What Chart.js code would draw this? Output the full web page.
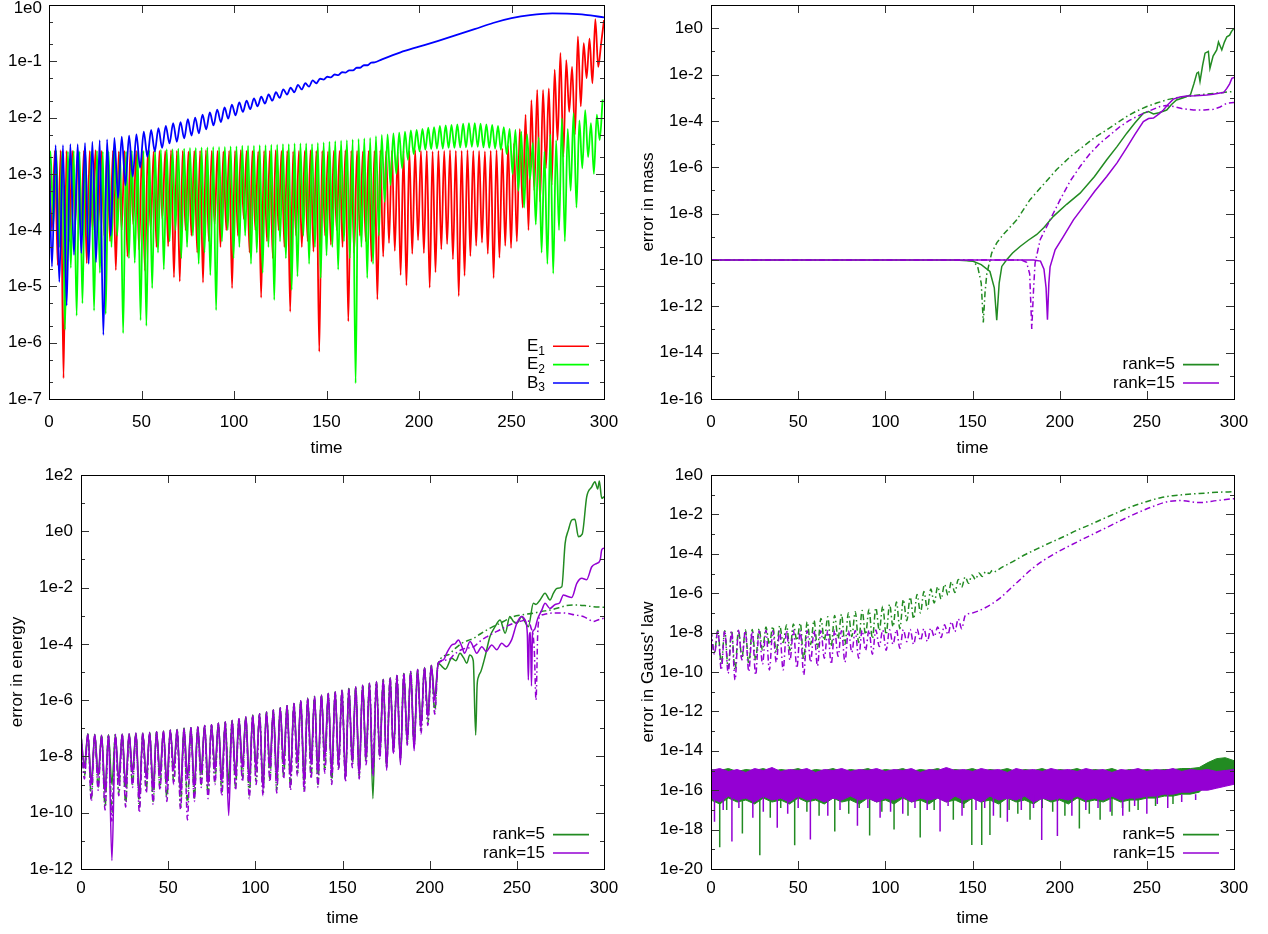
<!DOCTYPE html>
<html>
<head>
<meta charset="utf-8">
<script src="https://cdn.jsdelivr.net/npm/chart.js@4.4.1/dist/chart.umd.min.js"></script>
<style>
  html, body { margin: 0; padding: 0; background: #fff; overflow: hidden; }
  body { width: 1268px; height: 934px; position: relative; }
  canvas { position: absolute; }
</style>
</head>
<body>
<canvas id="fields" width="634" height="477" style="left:0;top:-10px"></canvas>
<canvas id="mass" width="634" height="477" style="left:634px;top:-10px"></canvas>
<canvas id="energy" width="634" height="467" style="left:0;top:467px"></canvas>
<canvas id="gauss" width="634" height="467" style="left:634px;top:467px"></canvas>
<script>
// All series values are log10 of the plotted quantity.

const timeTicks = [0, 50, 100, 150, 200, 250, 300];
const fieldTicks = [1e-7, 1e-6, 1e-5, 1e-4, 1e-3, 1e-2, 1e-1, 1e0];
const massTicks = [1e-16, 1e-14, 1e-12, 1e-10, 1e-8, 1e-6, 1e-4, 1e-2, 1e0];
const energyTicks = [1e-12, 1e-10, 1e-8, 1e-6, 1e-4, 1e-2, 1e0, 1e2];
const gaussTicks = [1e-20, 1e-18, 1e-16, 1e-14, 1e-12, 1e-10, 1e-8, 1e-6, 1e-4, 1e-2, 1e0];

// ---- top left: |E1|, |E2|, |B3| (samples every half oscillation) ----
const e1Start = 0, e1Step = 1.5708;
const e1Peaks = [
  -2.59,-2.59,-2.58,-2.59,-2.59,-2.6,-2.59,-2.59,-2.58,-2.59,
  -2.59,-2.59,-2.6,-2.59,-2.58,-2.59,-2.59,-2.59,-2.6,-2.59,
  -2.59,-2.58,-2.59,-2.59,-2.6,-2.59,-2.59,-2.58,-2.59,-2.59,
  -2.6,-2.59,-2.59,-2.58,-2.59,-2.59,-2.6,-2.59,-2.59,-2.58,
  -2.59,-2.59,-2.6,-2.59,-2.59,-2.58,-2.59,-2.59,-2.6,-2.59,
  -2.59,-2.58,-2.59,-2.59,-2.6,-2.59,-2.59,-2.58,-2.59,-2.59,
  -2.6,-2.59,-2.59,-2.58,-2.59,-2.59,-2.6,-2.59,-2.59,-2.58,
  -2.59,-2.59,-2.58,-2.59,-2.59,-2.6,-2.59,
  -2.58,-2.55,-2.5,-2.46,-2.2,-1.95,-1.69,-1.51,-1.51,-1.48,
  -1.15,-0.85,-0.98,-1.1,-0.56,-0.68,-0.6,-0.25,-0.68
];
const e1Dips = [
  -4.0,-4.62,-6.63,-4.2,-3.9,-4.1,-4.59,-4.0,-3.9,-4.1,
  -4.2,-4.71,-4.0,-4.47,-3.9,-4.35,-4.72,-4.0,-4.3,-3.8,
  -4.29,-4.84,-4.91,-4.0,-4.1,-4.4,-4.93,-4.2,-3.9,-4.3,
  -4.0,-5.03,-4.1,-3.8,-4.4,-4.0,-5.2,-4.2,-4.5,-4.0,
  -4.3,-5.45,-4.1,-4.3,-4.2,-4.38,-6.16,-4.1,-4.26,-4.0,
  -4.3,-5.62,-4.41,-4.1,-4.2,-4.56,-5.23,-4.47,-4.23,-4.37,
  -4.8,-4.98,-4.42,-4.18,-4.41,-5.02,-4.75,-4.34,-4.25,-4.52,
  -5.17,-4.81,-4.46,-4.28,-4.22,-4.42,-4.85,-4.49,-4.28,-4.32,
  -4.2,-3.6,-4.0,-3.3,-3.5,-2.9,-3.2,-2.4,-2.7,-1.9,
  -2.3,-1.8,-1.3,-1.39,-1.1
];
const e1Tail = [[300, -0.27]];

const e2Start = 0.8, e2Step = 1.5708;
const e2Head = [[0, -2.9]];
const e2Peaks = [
  -2.6,-2.59,-2.6,-2.6,-2.59,-2.6,-2.6,-2.6,-2.59,-2.6,
  -2.6,-2.59,-2.6,-2.6,-2.59,-2.6,-2.59,
  -2.58,-2.58,-2.57,-2.56,-2.56,-2.55,-2.55,-2.54,-2.54,-2.53,
  -2.53,-2.52,-2.52,-2.52,-2.51,-2.51,-2.5,-2.5,-2.5,-2.49,
  -2.49,-2.48,-2.48,-2.47,-2.47,-2.46,-2.46,-2.46,-2.47,-2.45,
  -2.44,-2.43,-2.42,-2.41,-2.4,-2.39,-2.38,-2.37,-2.36,-2.33,
  -2.31,-2.3,-2.28,-2.27,-2.25,-2.23,-2.22,-2.2,-2.18,-2.17,
  -2.15,-2.14,-2.13,-2.12,-2.11,-2.1,-2.1,-2.11,-2.12,-2.13,
  -2.15,-2.17,-2.2,-2.22,-2.25,-2.3,-2.45,-2.35,-2.6,-2.3,
  -2.4,-2.01,-2.2,-1.92,-2.05,-1.87,-2.1,-1.95,-1.68
];
const e2Dips = [
  -3.9,-4.3,-5.77,-4.67,-5.52,-5.3,-4.4,-5.43,-4.76,-5.49,
  -4.3,-4.1,-5.83,-4.5,-4.58,-5.6,-5.7,-5.03,-4.4,-4.7,
  -4.2,-4.0,-4.5,-4.3,-4.1,-4.6,-4.4,-4.8,-5.42,-4.2,
  -4.0,-4.5,-4.3,-4.1,-4.6,-4.4,-4.76,-4.3,-5.24,-4.2,
  -4.5,-5.06,-4.82,-4.1,-4.6,-4.3,-4.85,-4.45,-4.3,-4.7,
  -4.2,-4.5,-6.72,-4.3,-4.85,-4.6,-4.1,-3.5,-3.2,-3.0,
  -2.9,-2.75,-2.65,-2.6,-2.57,-2.56,-2.55,-2.55,-2.54,-2.54,
  -2.53,-2.53,-2.52,-2.52,-2.53,-2.54,-2.55,-2.57,-2.65,-3.0,
  -3.3,-3.6,-3.1,-3.9,-4.4,-4.6,-4.77,-4.0,-4.2,-3.3,
  -3.6,-2.9,-2.7,-3.0,-2.4
];

const b3Start = 1.6, b3Step = 1.985;
const b3Head = [[0, -2.55]];
const b3Dips = [
  -4.65,-4.92,-5.34,-4.44,-4.41,-4.6,-4.57,-5.86,-4.1,-3.43,
  -3.2,-3.05,-2.89,-2.7,-2.6,-2.54,-2.46,-2.43,-2.37,-2.32,
  -2.28,-2.21,-2.14,-2.08,-2.02,-1.96,-1.9,-1.85,-1.8,-1.75,
  -1.7,-1.65,-1.59,-1.55,-1.5,-1.45,-1.39
];
const b3Peaks = [
  -2.49,-2.49,-2.47,-2.47,-2.45,-2.43,-2.4,-2.39,-2.36,-2.34,
  -2.32,-2.3,-2.25,-2.22,-2.19,-2.15,-2.1,-2.08,-2.03,-2.0,
  -1.95,-1.91,-1.86,-1.82,-1.77,-1.73,-1.7,-1.66,-1.63,-1.59,
  -1.55,-1.5,-1.47,-1.42,-1.39,-1.34
];
const b3Tail = [
  [146.5,-1.31],[148.5,-1.325],[150.4,-1.275],[152.4,-1.285],[154.4,-1.235],[156.4,-1.245],
  [158.4,-1.195],[160.3,-1.2],[162.3,-1.16],[164.3,-1.16],[166.3,-1.115],[168.2,-1.115],
  [170.2,-1.07],[172.2,-1.07],[174.2,-1.025],[176,-1.02],[180,-0.965],[190,-0.84],
  [200,-0.74],[210,-0.64],[220,-0.535],[230,-0.43],[240,-0.32],[250,-0.235],[260,-0.18],
  [272,-0.15],[280,-0.155],[290,-0.175],[300,-0.22]
];

// ---- top right: error in mass ----
const massR5 = [
  [0,-10],[140,-10],[150,-10.05],[155,-10.2],[160,-10.5],[162.5,-11.2],[163.9,-12.6],[165.3,-11.0],
  [166.8,-10.28],[169.6,-9.99],[173,-9.7],[177.3,-9.42],[182,-9.15],[186.9,-8.9],[191,-8.6],
  [196.4,-8.12],[204,-7.6],[211.7,-7.12],[220,-6.4],[227,-5.68],[233,-5.1],[238.5,-4.53],
  [243,-4.1],[248,-3.67],[251,-3.6],[253.8,-3.7],[257,-3.65],[261.4,-3.53],[264,-3.3],
  [267,-3.1],[271,-3.0],[275,-2.88],[277,-2.4],[278.7,-1.94],[279.6,-1.9],[280.5,-2.3],
  [282,-1.6],[283.4,-1.08],[285.3,-1.0],[286.2,-1.73],[288,-1.2],[290.1,-0.94],[291.1,-0.6],
  [293,-0.94],[294.5,-0.6],[295.9,-0.37],[297.5,-0.3],[298.5,-0.15],[300,0.0]
];
const massR5Dash = [
  [0,-10],[145,-10],[150.5,-10.05],[153,-10.3],[155,-11.0],[156.2,-12.7],[157.2,-11.4],
  [158.2,-10.6],[161,-9.7],[164,-9.25],[167.7,-8.9],[175.4,-8.27],[183,-7.4],[190,-6.8],
  [198.3,-6.1],[206,-5.55],[213.6,-5.1],[220,-4.72],[227,-4.39],[233,-4.08],[238.5,-3.81],
  [244,-3.58],[250,-3.38],[256,-3.22],[261.4,-3.09],[267,-3.0],[272.9,-2.95],[280,-2.88],
  [290,-2.8],[300,-2.73]
];
const massR15 = [
  [0,-10],[185,-10],[189,-10.05],[191,-10.4],[192.2,-11.2],[193,-12.58],[193.8,-11.0],
  [194.5,-10.3],[197.4,-9.56],[202.1,-8.99],[207.9,-8.27],[213.6,-7.7],[220,-7.05],
  [227,-6.4],[233,-5.8],[238.5,-5.15],[243,-4.6],[248,-4.03],[251,-3.9],[253.8,-3.88],
  [257,-3.7],[259.5,-3.53],[262,-3.3],[265.2,-3.06],[269,-2.97],[272.9,-2.93],[278,-2.92],
  [284.4,-2.88],[288,-2.85],[292,-2.8],[294,-2.78],[295.9,-2.6],[297.5,-2.4],[298.8,-2.16],
  [300,-2.13]
];
const massR15Dash = [
  [0,-10],[178,-10],[181,-10.1],[182.8,-10.6],[184,-12.98],[185,-11.3],[185.9,-10.13],
  [188.8,-9.13],[194.5,-8.27],[200.2,-7.41],[206,-6.6],[211.7,-5.97],[217,-5.45],
  [223.2,-4.96],[229,-4.6],[234.7,-4.24],[240,-3.98],[246.1,-3.74],[252,-3.55],
  [257.6,-3.38],[261,-3.34],[265.2,-3.38],[270,-3.47],[276.7,-3.53],[283,-3.53],
  [288.2,-3.5],[292,-3.4],[295.9,-3.24],[300,-3.21]
];

// ---- bottom left: error in energy ----
const energyStart = 0, energyStep = 1.97;
const energyPeaks = [
  -7.25,-7.2,-7.22,-7.25,-7.24,-7.22,-7.2,-7.2,-7.18,-7.17,
  -7.15,-7.12,-7.1,-7.07,-7.04,-7.0,-6.98,-6.95,-6.9,-6.87,
  -6.82,-6.78,-6.72,-6.66,-6.6,-6.54,-6.48,-6.42,-6.35,-6.27,
  -6.2,-6.12,-6.02,-5.93,-5.87,-5.82,-5.76,-5.7,-5.64,-5.59,
  -5.53,-5.47,-5.4,-5.34,-5.27,-5.2,-5.12,-5.05,-4.98,-4.91,
  -4.84,-4.77,-4.69
];
const energyDipsR15 = [
  -8.4,-9.0,-8.7,-9.3,-11.7,-8.9,-9.1,-8.6,-9.5,-8.8,
  -9.2,-8.7,-9.0,-8.5,-9.3,-8.8,-9.1,-8.6,-9.0,-8.5,
  -8.9,-10.1,-8.7,-8.4,-8.9,-8.5,-9.2,-8.4,-8.8,-8.3,
  -8.7,-8.2,-9.0,-8.3,-8.6,-8.1,-8.6,-8.3,-8.8,-8.2,
  -8.7,-8.1,-8.6,-8.0,-8.5,-7.9,-8.3,-7.5,-7.8,-7.0,
  -6.6,-6.0
];
const energyDipsR15Dash = [
  -8.8,-9.6,-9.2,-9.9,-10.3,-9.4,-9.8,-9.1,-10.0,-9.3,
  -9.7,-9.2,-9.6,-9.0,-9.9,-10.26,-9.6,-9.1,-9.5,-9.0,
  -9.4,-9.3,-9.2,-8.9,-9.5,-9.0,-9.4,-8.9,-9.3,-8.8,
  -9.2,-8.7,-9.3,-8.8,-9.1,-8.6,-9.0,-8.5,-8.9,-8.4,
  -8.8,-8.3,-8.7,-8.1,-8.4,-7.9,-8.1,-7.6,-7.7,-7.2,
  -6.9,-6.5
];
const energyDipsR5 = [
  -8.3,-8.9,-8.6,-9.2,-9.0,-8.8,-9.0,-8.5,-9.3,-8.7,
  -9.1,-8.6,-8.9,-8.4,-9.2,-8.7,-9.0,-8.5,-8.9,-8.4,
  -8.8,-8.9,-8.6,-8.3,-8.8,-8.4,-9.0,-8.3,-8.7,-8.2,
  -8.6,-8.1,-8.8,-8.2,-8.5,-8.0,-8.5,-8.2,-8.7,-8.1,
  -8.6,-8.0,-9.5,-7.9,-8.4,-7.8,-8.2,-7.4,-7.6,-6.9,
  -6.5,-5.9
];
const energyDipsR5Dash = [
  -8.7,-9.5,-9.1,-9.8,-10.0,-9.3,-9.7,-9.0,-9.8,-9.2,
  -9.6,-9.1,-9.5,-8.9,-9.8,-9.7,-9.5,-9.0,-9.4,-8.9,
  -9.3,-9.2,-9.1,-8.8,-9.4,-8.9,-9.3,-8.8,-9.2,-8.7,
  -9.1,-8.6,-9.2,-8.7,-9.0,-8.5,-8.9,-8.4,-8.8,-8.3,
  -8.7,-8.2,-8.6,-8.0,-8.3,-7.8,-8.0,-7.5,-7.6,-7.1,
  -6.8,-6.4
];
const energyR5Tail = [
  [207,-4.8],[209,-4.9],[212.7,-4.51],[215,-4.6],[217.4,-4.33],[219.5,-4.5],[221.3,-4.69],
  [223,-4.4],[225,-4.6],[226.4,-7.24],[227.2,-5.5],[228,-5.17],[229.5,-4.96],[231.8,-4.45],
  [234.6,-3.74],[237.5,-3.39],[240.4,-3.15],[243.3,-3.62],[246,-3.03],[248,-3.2],[250,-3.27],
  [252.8,-3.03],[254.5,-3.2],[256.6,-3.39],[259.5,-2.56],[261,-2.6],[263.3,-2.44],[266.2,-2.2],
  [269,-2.44],[271,-2.2],[272.9,-2.03],[275.8,-1.97],[277.7,-0.43],[279.6,0.05],[281.5,0.4],
  [283.3,0.43],[285.3,-0.19],[287.5,-0.1],[290.1,1.23],[293,1.58],[294.8,1.76],[296.4,1.5],
  [297.3,1.79],[298.7,1.17],[300,1.23]
];
const energyR15Tail = [
  [207.9,-4.57],[210,-4.3],[212.7,-4.04],[214.5,-4.0],[216.5,-3.86],[218.5,-4.1],[220,-4.33],
  [223.2,-3.92],[225,-4.1],[227,-4.33],[229.9,-4.1],[232.5,-4.27],[235.6,-4.04],[238.5,-4.21],
  [241.3,-3.98],[244,-4.1],[247,-3.86],[250,-3.27],[252.8,-3.03],[254.7,-3.15],[256,-3.62],
  [256.6,-5.28],[257.2,-3.7],[257.8,-3.6],[258.4,-5.5],[259,-3.6],[260,-3.5],[262,-3.1],
  [264.3,-2.8],[266.2,-2.56],[269,-2.74],[272,-2.6],[274.5,-2.55],[276.7,-2.26],[278.5,-2.3],
  [281.5,-2.35],[284.4,-1.85],[287.3,-1.67],[290,-1.72],[293,-1.26],[295.9,-1.14],
  [297.8,-1.02],[298.7,-0.66],[300,-0.6]
];
const energyR5DashTail = [
  [210.7,-4.39],[214,-4.2],[218.4,-3.98],[222,-3.88],[225.3,-3.8],[229,-3.65],[233,-3.5],
  [236.5,-3.38],[240.4,-3.27],[244,-3.15],[248,-3.03],[253,-2.97],[259.5,-2.91],[264,-2.85],
  [269,-2.8],[274,-2.72],[278.5,-2.64],[284.4,-2.62],[289,-2.64],[293.9,-2.68],[300,-2.7]
];
const energyR15DashTail = [
  [210.7,-4.57],[214,-4.38],[218.4,-4.2],[222,-4.15],[225.3,-4.1],[229,-3.9],[233,-3.74],
  [236.5,-3.62],[240.4,-3.5],[244,-3.38],[248,-3.27],[252,-3.2],[255.7,-3.15],[258,-3.4],
  [260,-4.2],[261,-6.0],[262,-3.6],[263.3,-3.03],[266,-2.95],[269,-2.91],[274,-2.9],
  [278.5,-2.91],[283,-2.97],[288.1,-3.03],[291,-3.12],[293.9,-3.21],[296.5,-3.15],[300,-3.09]
];

// ---- bottom right: error in Gauss' law ----
const gaussStart = 0, gaussStep = 1.97;
const gaussPeaksR15Dash = [
  -7.9,-7.88,-7.9,-7.92,-7.88,-7.9,-7.93,-7.9,-7.88,-7.9,
  -7.92,-7.9,-7.88,-7.9,-7.91,-7.89,-7.9,-7.9,-7.88,-7.9,
  -7.9,-7.89,-7.88,-7.88,-7.87,-7.87,-7.86,-7.85,-7.85,-7.84,
  -7.82,-7.8,-7.77,-7.72,-7.6,-7.45,-7.3,-7.15
];
const gaussDipsR15Dash = [
  -9.1,-9.9,-10.07,-10.4,-9.39,-9.98,-10.15,-9.6,-9.9,-9.5,
  -9.9,-9.4,-9.8,-10.15,-9.5,-9.7,-9.3,-9.6,-9.2,-9.5,
  -9.0,-9.3,-8.9,-9.1,-8.71,-8.9,-8.6,-8.8,-8.46,-8.6,
  -8.4,-8.45,-8.2,-8.25,-8.1,-7.95,-7.8
];
const gaussR15DashTail = [
  [150,-7.0],[157,-6.75],[165,-6.3],[175,-5.5],[185,-4.7],[195,-4.1],[210,-3.4],[225,-2.75],
  [240,-2.1],[252,-1.65],[262,-1.35],[270,-1.3],[280,-1.4],[290,-1.3],[300,-1.2]
];
const gaussPeaksR5Dash = [
  -7.9,-7.88,-7.9,-7.9,-7.88,-7.86,-7.84,-7.8,-7.72,-7.68,
  -7.65,-7.62,-7.56,-7.52,-7.45,-7.38,-7.28,-7.2,-7.13,-7.07,
  -7.0,-6.94,-6.88,-6.82,-6.74,-6.66,-6.57,-6.45,-6.32,-6.2,
  -6.06,-5.92,-5.79,-5.67,-5.55,-5.42,-5.3,-5.17,-5.07,-4.98,
  -4.9,-4.83,-4.76
];
const gaussDipsR5Dash = [
  -9.0,-9.6,-9.8,-9.9,-9.3,-9.6,-9.4,-8.9,-8.6,-9.0,
  -8.5,-8.9,-8.4,-9.39,-8.6,-8.8,-8.4,-8.7,-8.3,-8.6,
  -8.2,-8.5,-8.1,-8.3,-7.9,-8.1,-7.7,-7.8,-7.4,-7.3,
  -7.0,-6.8,-6.5,-6.3,-6.1,-5.97,-5.7,-5.5,-5.3,-5.15,
  -5.0,-4.9
];
const gaussR5DashTail = [
  [172,-4.45],[180,-4.05],[187,-3.75],[195,-3.42],[203,-3.1],[210,-2.8],[218,-2.5],[225,-2.22],
  [232,-1.95],[240,-1.65],[247,-1.43],[252,-1.29],[258,-1.15],[265,-1.05],[272,-0.99],
  [280,-0.94],[290,-0.88],[300,-0.85]
];
// noise band of the solid curves, edges every 5 time units
const noiseStart = 0, noiseStep = 5;
const noiseR15High = [
  -15.0,-14.9,-15.05,-14.95,-15.1,-14.9,-15.0,-14.85,-15.05,-14.95,
  -15.0,-14.9,-15.1,-14.95,-15.0,-14.9,-15.05,-14.95,-15.0,-14.9,
  -15.05,-14.95,-15.0,-14.9,-15.1,-14.95,-15.0,-14.85,-15.0,-14.95,
  -15.05,-14.9,-15.0,-14.95,-15.1,-14.9,-15.0,-14.95,-15.05,-14.9,
  -15.0,-14.95,-15.05,-14.9,-15.0,-14.95,-15.1,-14.95,-15.0,-14.9,
  -15.05,-14.95,-15.0,-14.9,-15.05,-14.95,-15.0,-14.95,-15.05,-15.0,
  -14.95
];
const noiseR15Low = [
  -16.4,-16.6,-16.3,-16.5,-16.4,-16.6,-16.3,-16.5,-16.4,-16.6,
  -16.3,-16.5,-16.4,-16.6,-16.4,-16.5,-16.3,-16.5,-16.4,-16.6,
  -16.4,-16.5,-16.3,-16.6,-16.4,-16.5,-16.4,-16.6,-16.3,-16.5,
  -16.4,-16.6,-16.3,-16.5,-16.4,-16.5,-16.3,-16.6,-16.4,-16.5,
  -16.4,-16.5,-16.3,-16.5,-16.4,-16.5,-16.3,-16.5,-16.4,-16.4,
  -16.3,-16.3,-16.2,-16.2,-16.1,-16.1,-16.0,-16.0,-15.9,-15.8,
  -15.7
];
const noiseR5High = [
  -14.95,-15.0,-14.9,-15.05,-14.95,-15.0,-14.9,-15.05,-14.95,-15.0,
  -14.9,-15.05,-14.95,-15.0,-14.9,-15.05,-14.95,-15.0,-14.9,-15.05,
  -14.95,-15.0,-14.9,-15.05,-14.95,-15.0,-14.9,-15.05,-14.95,-15.0,
  -14.9,-15.05,-14.95,-15.0,-14.9,-15.05,-14.95,-15.0,-14.9,-15.05,
  -14.95,-15.0,-14.9,-15.05,-14.95,-15.0,-14.9,-15.05,-14.95,-15.0,
  -14.95,-15.0,-14.95,-14.95,-14.9,-14.9,-14.85,-14.6,-14.4,-14.35,
  -14.5
];
const noiseR5Low = [
  -16.5,-16.7,-16.4,-16.6,-16.5,-16.7,-16.4,-16.6,-16.5,-16.7,
  -16.4,-16.6,-16.5,-16.7,-16.4,-16.6,-16.5,-16.7,-16.4,-16.6,
  -16.5,-16.7,-16.4,-16.6,-16.5,-16.7,-16.4,-16.6,-16.5,-16.7,
  -16.4,-16.6,-16.5,-16.7,-16.4,-16.6,-16.5,-16.7,-16.4,-16.6,
  -16.5,-16.7,-16.4,-16.6,-16.5,-16.6,-16.4,-16.6,-16.5,-16.5,
  -16.4,-16.4,-16.3,-16.3,-16.2,-16.2,-16.1,-15.7,-15.3,-15.2,
  -15.3
];
// downward spikes out of the band: [time, log10 value]
const spikeTop = -16.2;
const spikesR5 = [
  [5,-18.9],[9,-17.0],[18,-18.2],[28,-19.3],[34,-17.4],[40,-16.9],[48,-18.8],[55,-17.1],
  [62,-17.3],[71,-18.1],[79,-17.2],[85,-16.9],[91,-18.3],[98,-17.1],[105,-18.0],[113,-17.3],
  [120,-18.4],[128,-17.0],[139,-17.5],[145,-16.9],[149.6,-18.78],[155.3,-18.78],[160,-18.27],
  [166,-17.4],[171,-17.0],[176,-17.2],[183,-17.5],[190,-16.9],[196,-17.1],[203,-17.3],
  [211.3,-17.94],[217,-17.2],[223.2,-17.5],[230,-17.3],[236,-16.9],[240,-17.1],[245,-17.0],
  [255,-16.8],[265,-16.7]
];
const spikesR15 = [
  [2,-17.6],[7,-17.0],[12,-18.6],[16,-16.9],[24,-17.4],[30,-17.1],[38,-17.9],[44,-17.2],
  [50,-16.9],[57,-18.5],[67,-17.3],[74,-17.0],[84,-17.8],[90,-16.9],[97,-17.4],[103,-17.1],
  [110,-17.2],[117,-16.9],[124,-17.0],[131.4,-18.1],[136,-16.8],[144,-17.3],[152,-17.0],
  [157,-16.9],[162,-17.3],[170,-17.6],[178,-17.0],[185,-16.9],[189.7,-18.53],[198.7,-18.32],
  [207,-17.3],[215,-17.0],[222,-16.9],[229,-17.1],[236.2,-17.3],[243,-16.8],[250,-17.2],
  [256,-16.7],[262,-16.9],[270,-16.6],[278,-16.5]
];

// ---------------------------------------------------------------------------
const FONT = "'Liberation Sans', Arial, Helvetica, sans-serif";
const FONT_SIZE = 17;
const RED = '#ff0000', LIME = '#00ff00', BLUE = '#0000ff';
const GREEN = '#228b22', PURPLE = '#9400d3';
const DASHDOT = [6, 3, 1.5, 3];

function steps(t0, step, logs) {
  return logs.map((v, i) => ({ x: t0 + i * step, y: Math.pow(10, v) }));
}
function pairs(list) {
  return list.map(([t, v]) => ({ x: t, y: Math.pow(10, v) }));
}
function alternate(a, b) {
  const out = [];
  for (let i = 0; i < a.length; i++) {
    out.push(a[i]);
    if (i < b.length) out.push(b[i]);
  }
  return out;
}
function wave(head, t0, step, first, second, tail) {
  return [...pairs(head), ...steps(t0, step, alternate(first, second)), ...pairs(tail)];
}
function spikes(list) {
  const out = [];
  list.forEach(([t, v]) => {
    out.push({ x: t, y: Math.pow(10, spikeTop) }, { x: t, y: Math.pow(10, v) }, { x: t, y: null });
  });
  return out;
}
function line(data, color, order, extra) {
  return Object.assign({
    data, borderColor: color, backgroundColor: color, borderWidth: 1.5,
    pointRadius: 0, fill: false, tension: 0, order, spanGaps: false
  }, extra || {});
}
const SMOOTH = { cubicInterpolationMode: 'monotone' };
const FIELD_LINE = { cubicInterpolationMode: 'monotone', borderWidth: 1.8 };
const expLabel = v => '1e' + Math.round(Math.log10(v));

// border and inward tics on all four sides, like the gnuplot frame
const framePlugin = {
  id: 'frame',
  afterDatasetsDraw(chart, args, o) {
    const { ctx, chartArea: a } = chart;
    const x = chart.scales.x, y = chart.scales.y;
    const seg = (x0, y0, x1, y1) => { ctx.beginPath(); ctx.moveTo(x0, y0); ctx.lineTo(x1, y1); ctx.stroke(); };
    ctx.save();
    ctx.lineWidth = 1;
    ctx.strokeStyle = '#333';
    x.ticks.forEach(t => {
      const px = Math.round(x.getPixelForValue(t.value)) + 0.5;
      seg(px, a.bottom, px, a.bottom - 8);
      seg(px, a.top, px, a.top + 8);
    });
    const yTic = (v, len) => {
      const py = Math.round(y.getPixelForValue(v)) + 0.5;
      seg(a.left, py, a.left + len, py);
      seg(a.right, py, a.right - len, py);
    };
    y.ticks.forEach(t => yTic(t.value, 8));
    (o.minor || []).forEach(v => yTic(v, 4));
    ctx.strokeStyle = '#000';
    ctx.strokeRect(Math.round(a.left) + 0.5, Math.round(a.top) + 0.5,
      Math.round(a.right - a.left), Math.round(a.bottom - a.top));
    // the topmost label sits a little below its tic so it stays inside the page
    if (o.topLabel) {
      ctx.fillStyle = '#000';
      ctx.font = FONT_SIZE + 'px ' + FONT;
      ctx.textAlign = 'right';
      ctx.textBaseline = 'middle';
      ctx.fillText(expLabel(o.topLabel), a.left - o.labelPad, y.getPixelForValue(o.topLabel) + 3);
    }
    ctx.restore();
  }
};

// key in the lower right corner: text, then a line sample
const keyPlugin = {
  id: 'key',
  afterDraw(chart, args, o) {
    const items = o.items || [];
    const { ctx, chartArea: a } = chart;
    const n = items.length;
    ctx.save();
    items.forEach((it, i) => {
      const yy = a.bottom - 16 - (n - 1 - i) * 18.4;
      const x1 = a.right - 15, x0 = x1 - 36;
      ctx.strokeStyle = it.color;
      ctx.lineWidth = 1.6;
      ctx.beginPath(); ctx.moveTo(x0, yy); ctx.lineTo(x1, yy); ctx.stroke();
      ctx.fillStyle = '#000';
      ctx.textAlign = 'right';
      ctx.textBaseline = 'middle';
      let xr = x0 - 8;
      if (it.sub) {
        ctx.font = '12px ' + FONT;
        ctx.fillText(it.sub, xr, yy + 5);
        xr -= ctx.measureText(it.sub).width;
      }
      ctx.font = FONT_SIZE + 'px ' + FONT;
      ctx.fillText(it.text, xr, yy);
    });
    ctx.restore();
  }
};

function panel(id, cfg) {
  const font = { family: FONT, size: FONT_SIZE };
  return new Chart(document.getElementById(id), {
    type: 'line',
    data: { datasets: cfg.datasets },
    options: {
      responsive: false,
      animation: false,
      devicePixelRatio: 1,
      events: [],
      layout: { autoPadding: false, padding: cfg.pad },
      plugins: {
        legend: { display: false },
        tooltip: { enabled: false },
        frame: { minor: cfg.minor, topLabel: cfg.topLabel, labelPad: cfg.yPad },
        key: { items: cfg.keys }
      },
      scales: {
        x: {
          type: 'linear', min: 0, max: 300,
          afterBuildTicks: s => { s.ticks = timeTicks.map(v => ({ value: v })); },
          afterFit: s => { s.height = cfg.xH; s.paddingLeft = 0; s.paddingRight = 0; },
          grid: { display: false, drawTicks: false }, border: { display: false },
          ticks: { font, color: '#000', padding: cfg.xPad, maxRotation: 0, autoSkip: false },
          title: { display: true, text: 'time', font, color: '#000', padding: { top: 0, bottom: cfg.xTitlePad } }
        },
        y: {
          type: 'logarithmic', min: cfg.yMin, max: cfg.yMax,
          afterBuildTicks: s => { s.ticks = cfg.yTicks.map(v => ({ value: v })); },
          afterFit: s => { s.width = cfg.yW; s.paddingTop = 0; s.paddingBottom = 0; },
          grid: { display: false, drawTicks: false }, border: { display: false },
          ticks: {
            font, color: '#000', padding: cfg.yPad, autoSkip: false,
            callback: v => (cfg.topLabel && v === cfg.topLabel) ? '' : expLabel(v)
          },
          title: cfg.yTitle
            ? { display: true, text: cfg.yTitle, font, color: '#000', padding: { top: cfg.yTitlePad, bottom: 0 } }
            : { display: false }
        }
      }
    },
    plugins: [framePlugin, keyPlugin]
  });
}

function decades(lo, hi, mults) {
  const out = [];
  for (let d = lo; d <= hi; d++) mults.forEach(m => out.push(m * Math.pow(10, d)));
  return out;
}
function oddDecades(lo, hi) {
  const out = [];
  for (let d = lo; d <= hi; d += 2) out.push(Math.pow(10, d));
  return out;
}

panel('fields', {
  pad: { top: 15, right: 30, left: 0, bottom: 0 }, yW: 49, xH: 68, xPad: 13, xTitlePad: 8.4, yPad: 7,
  yMin: 1e-7, yMax: 1e0, yTicks: fieldTicks, minor: decades(-7, -1, [2, 5]), topLabel: 1e0,
  keys: [{ text: 'E', sub: '1', color: RED }, { text: 'E', sub: '2', color: LIME }, { text: 'B', sub: '3', color: BLUE }],
  datasets: [
    line(wave([], e1Start, e1Step, e1Peaks, e1Dips, e1Tail), RED, 3, FIELD_LINE),
    line(wave(e2Head, e2Start, e2Step, e2Peaks, e2Dips, []), LIME, 2, FIELD_LINE),
    line(wave(b3Head, b3Start, b3Step, b3Dips, b3Peaks, b3Tail), BLUE, 1, FIELD_LINE)
  ]
});

panel('mass', {
  pad: { top: 15, right: 34, left: 0, bottom: 0 }, yW: 77, xH: 68, xPad: 13, xTitlePad: 8.4, yPad: 8,
  yMin: 1e-16, yMax: 1e1, yTicks: massTicks, minor: oddDecades(-15, 1),
  yTitle: 'error in mass', yTitlePad: 4.4,
  keys: [{ text: 'rank=5', color: GREEN }, { text: 'rank=15', color: PURPLE }],
  datasets: [
    line(pairs(massR5Dash), GREEN, 4, { borderDash: DASHDOT }),
    line(pairs(massR5), GREEN, 3),
    line(pairs(massR15Dash), PURPLE, 2, { borderDash: DASHDOT }),
    line(pairs(massR15), PURPLE, 1)
  ]
});

panel('energy', {
  pad: { top: 8, right: 30, left: 0, bottom: 0 }, yW: 81, xH: 65, xPad: 9, xTitlePad: 5.4, yPad: 8,
  yMin: 1e-12, yMax: 1e2, yTicks: energyTicks, minor: oddDecades(-11, 1),
  yTitle: 'error in energy', yTitlePad: 7,
  keys: [{ text: 'rank=5', color: GREEN }, { text: 'rank=15', color: PURPLE }],
  datasets: [
    line(wave([], energyStart, energyStep, energyPeaks, energyDipsR5Dash, energyR5DashTail), GREEN, 4, Object.assign({ borderDash: DASHDOT }, SMOOTH)),
    line(wave([], energyStart, energyStep, energyPeaks, energyDipsR5, energyR5Tail), GREEN, 3, SMOOTH),
    line(wave([], energyStart, energyStep, energyPeaks, energyDipsR15Dash, energyR15DashTail), PURPLE, 2, Object.assign({ borderDash: DASHDOT }, SMOOTH)),
    line(wave([], energyStart, energyStep, energyPeaks, energyDipsR15, energyR15Tail), PURPLE, 1, SMOOTH)
  ]
});

panel('gauss', {
  pad: { top: 8, right: 34, left: 0, bottom: 0 }, yW: 77, xH: 65, xPad: 9, xTitlePad: 5.4, yPad: 8,
  yMin: 1e-20, yMax: 1e0, yTicks: gaussTicks, minor: oddDecades(-19, -1),
  yTitle: "error in Gauss' law", yTitlePad: 4.4,
  keys: [{ text: 'rank=5', color: GREEN }, { text: 'rank=15', color: PURPLE }],
  datasets: [
    line(wave([], gaussStart, gaussStep, gaussPeaksR15Dash, gaussDipsR15Dash, gaussR15DashTail), PURPLE, 1, Object.assign({ borderDash: DASHDOT }, SMOOTH)),
    line(wave([], gaussStart, gaussStep, gaussPeaksR5Dash, gaussDipsR5Dash, gaussR5DashTail), GREEN, 2, Object.assign({ borderDash: DASHDOT }, SMOOTH)),
    line(spikes(spikesR15), PURPLE, 3),
    line(steps(noiseStart, noiseStep, noiseR15High), PURPLE, 4, { fill: '+1', borderWidth: 1 }),
    line(steps(noiseStart, noiseStep, noiseR15Low), PURPLE, 4, { borderWidth: 1 }),
    line(spikes(spikesR5), GREEN, 6),
    line(steps(noiseStart, noiseStep, noiseR5High), GREEN, 7, { fill: '+1', borderWidth: 1 }),
    line(steps(noiseStart, noiseStep, noiseR5Low), GREEN, 7, { borderWidth: 1 })
  ]
});
</script>
</body>
</html>
